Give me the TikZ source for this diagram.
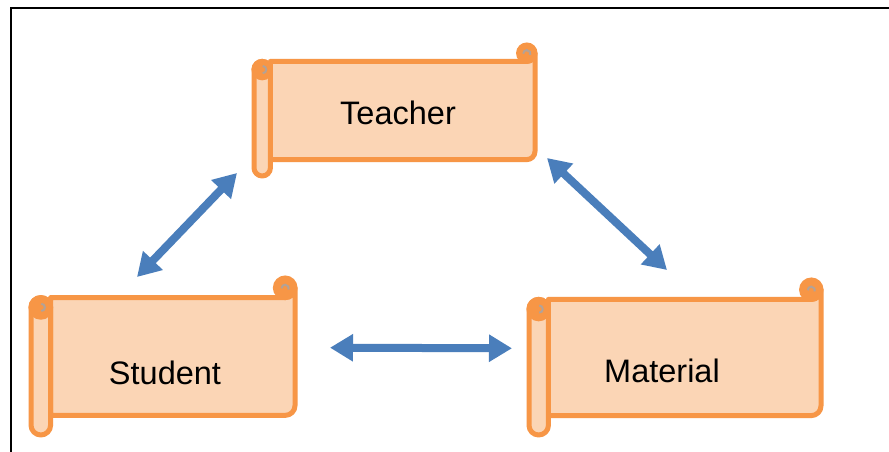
\documentclass[tikz,border=0pt]{standalone}
\usepackage{fontspec}
\setmainfont{Liberation Sans}
\usetikzlibrary{arrows.meta}

\definecolor{scrollfill}{HTML}{FBD5B5}
\definecolor{scrollline}{HTML}{F79646}
\definecolor{curlshade}{HTML}{B3A297}
\definecolor{arrowblue}{HTML}{4A7EBB}

\tikzset{
  scrollbody/.style={fill=scrollfill, draw=scrollline, line width=5pt, line join=round},
  scrollcurl/.style={fill=scrollline, draw=scrollline, line width=5pt},
  curlmark/.style={draw=curlshade, line width=2pt},
  label/.style={inner sep=0pt, font=\fontsize{32.5}{38}\selectfont},
  dblarrow/.style={draw=arrowblue, line width=8pt,
    {Triangle[width=26pt,length=23pt]}-{Triangle[width=26pt,length=23pt]}},
  frameline/.style={draw=black, line width=1.2pt}
}

% horizontal scroll: left, top, right, bottom, roll size
\newcommand\scrollshape[5]{%
  \pgfmathsetmacro\sL{#1}\pgfmathsetmacro\sT{#2}%
  \pgfmathsetmacro\sR{#3}\pgfmathsetmacro\sB{#4}%
  \pgfmathsetmacro\sc{#5}\pgfmathsetmacro\sh{#5/2}%
  % sheet
  \filldraw[scrollbody] (\sL+\sc,\sB+\sc) -- (\sL+\sc,\sT-\sc) -- (\sR-\sh,\sT-\sc)
    arc[start angle=-90,end angle=0,radius=\sh] -- (\sR,\sB+\sc+\sh)
    arc[start angle=0,end angle=-90,radius=\sh] -- cycle;
  % top right curl
  \filldraw[scrollcurl] (\sR-\sh,\sT-\sh) circle[radius=\sh];
  \draw[curlmark] (\sR-\sh-3.6,\sT-\sh-0.5) arc[start angle=180,end angle=-20,radius=3.6];
  % left roll
  \filldraw[scrollbody, rounded corners=\sh] (\sL,\sB) rectangle (\sL+\sc,\sT-\sc);
  \filldraw[scrollcurl] (\sL+\sh,\sT-\sc-\sh) circle[radius=\sh];
  \draw[curlmark] (\sL+\sh+0.5,\sT-\sc-\sh+3.6) arc[start angle=90,end angle=-90,radius=3.6];
}

\begin{document}
\begin{tikzpicture}[x=1pt,y=1pt]
  \useasboundingbox (0,0) rectangle (889,452);
  \fill[white] (0,0) rectangle (889,452);

  % frame
  \draw[frameline] (11,0) -- (11,444) -- (889,444);

  % scrolls
  \scrollshape{254}{407}{535}{276}{16.4}
  \scrollshape{31}{174}{295}{17}{19.6}
  \scrollshape{529}{172}{821}{17}{19.4}

  % labels
  \node[label] (teacher) at (398,339.5) {Teacher};
  \node[label] (student) at (165,79) {Student};
  \node[label] (material) at (662,81) {Material};

  % arrow ends
  \coordinate (st-a) at (137,175);
  \coordinate (te-a) at (237,279);
  \coordinate (te-b) at (547,294);
  \coordinate (ma-b) at (667,182);
  \coordinate (st-c) at (330,104.3);
  \coordinate (ma-c) at (512,103.7);

  % links
  \draw[dblarrow] (st-a) -- (te-a);
  \draw[dblarrow] (te-b) -- (ma-b);
  \draw[dblarrow] (st-c) -- (ma-c);
\end{tikzpicture}
\end{document}
